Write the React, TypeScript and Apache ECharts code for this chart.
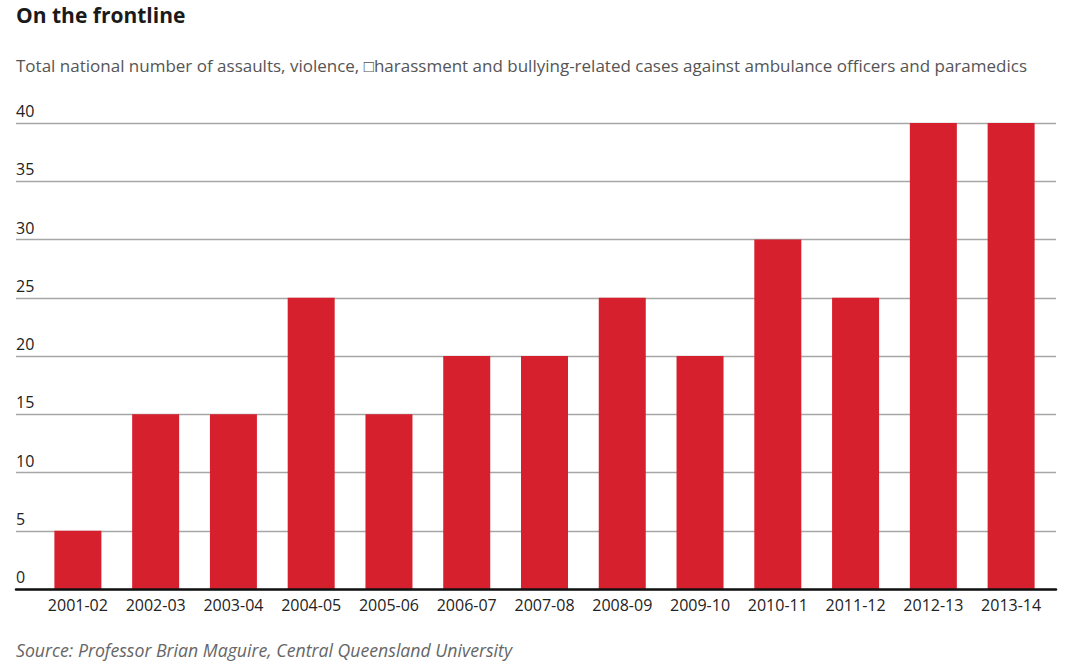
import React, { useEffect, useRef } from "react";
import * as echarts from "echarts";

const categories = ["2001-02", "2002-03", "2003-04", "2004-05", "2005-06", "2006-07", "2007-08", "2008-09", "2009-10", "2010-11", "2011-12", "2012-13", "2013-14"];
const cases = [5, 15, 15, 25, 15, 20, 20, 25, 20, 30, 25, 40, 40];
const yTicks = { min: 0, max: 40, interval: 5 };

const titleText = "On the frontline";
const subtitleText = "Total national number of assaults, violence, \u25A1harassment and bullying-related cases against ambulance officers and paramedics";
const sourceText = "Source: Professor Brian Maguire, Central Queensland University";

const FONT = "'Open Sans', 'Noto Sans', sans-serif";

export default function App() {
  const ref = useRef<HTMLDivElement>(null);
  useEffect(() => {
    if (!ref.current) return;
    const chart = echarts.init(ref.current, undefined, { renderer: "svg" });
    chart.setOption({
      animation: false,
      backgroundColor: "#ffffff",
      title: [
        { text: titleText, left: 16, top: 4, padding: 0, textStyle: { fontFamily: FONT, fontWeight: "bold", fontSize: 21, color: "#1a1a1a" } },
        { text: subtitleText, left: 16, top: 57, padding: 0, textStyle: { fontFamily: FONT, fontWeight: "normal", fontSize: 17, color: "#555555" } },
        { text: sourceText, left: 16, top: 641, padding: 0, textStyle: { fontFamily: FONT, fontWeight: "normal", fontStyle: "italic", fontSize: 17.7, color: "#666666" } },
      ],
      grid: [
        { left: 16, right: 24, top: 123, bottom: 74 },
        { left: 39, right: 30, top: 123, bottom: 74 },
      ],
      xAxis: [
        {
          gridIndex: 0, type: "value", min: 0, max: 1,
          axisLabel: { show: false }, axisTick: { show: false }, splitLine: { show: false },
          axisLine: { show: true, lineStyle: { color: "#111111", width: 2.5 } },
          z: 5,
        },
        {
          gridIndex: 1, type: "category", data: categories,
          axisLine: { show: false }, axisTick: { show: false },
          axisLabel: { fontFamily: FONT, fontSize: 16, color: "#222222", margin: 8, interval: 0 },
        },
      ],
      yAxis: [
        {
          gridIndex: 0, type: "value", min: yTicks.min, max: yTicks.max, interval: yTicks.interval,
          axisLine: { show: false }, axisTick: { show: false },
          axisLabel: { inside: true, verticalAlign: "bottom", margin: 0, padding: [0, 0, 4, 0], fontFamily: FONT, fontSize: 16, color: "#222222" },
          splitLine: { show: true, lineStyle: { color: "#a6a6a6", width: 1.3 } },
        },
        {
          gridIndex: 1, type: "value", min: yTicks.min, max: yTicks.max, interval: yTicks.interval,
          show: false, splitLine: { show: false },
        },
      ],
      series: [
        {
          type: "bar", xAxisIndex: 1, yAxisIndex: 1, data: cases, barWidth: 47,
          itemStyle: { color: "#d7202e" }, z: 3,
        },
      ],
    });
    return () => chart.dispose();
  }, []);
  return <div ref={ref} style={{ position: "absolute", left: 0, top: 0, width: 1080, height: 663 }} />;
}
